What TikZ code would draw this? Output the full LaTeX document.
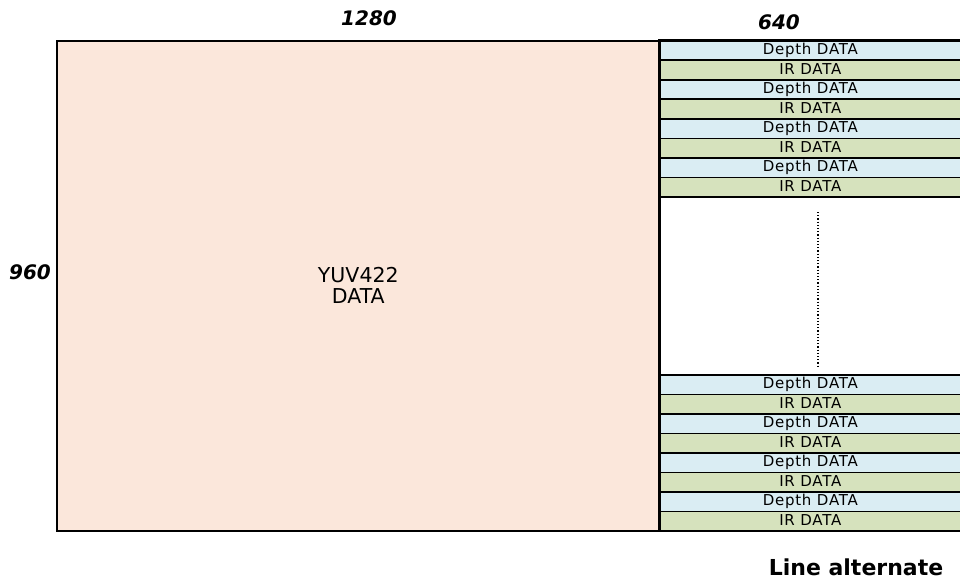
\documentclass[tikz,border=0pt]{standalone}
\usepackage{fontspec}
\setmainfont{DejaVu Sans}
\begin{document}
\begin{tikzpicture}[x=1pt,y=-1pt,
  stripe/.style={draw=black,line width=1.6pt,minimum width=301pt,minimum height=19.5pt,inner sep=0pt,text height=11pt,text depth=3pt,anchor=north west,font=\fontsize{15}{15}\selectfont\addfontfeatures{LetterSpace=5}},
  depth/.style={stripe,fill=depthblue},
  ir/.style={stripe,fill=irgreen},
  dim/.style={font=\fontsize{20}{20}\selectfont\bfseries\itshape}]
\definecolor{yuvfill}{HTML}{FBE7DB}
\definecolor{depthblue}{HTML}{DAEDF3}
\definecolor{irgreen}{HTML}{D6E2BD}
\useasboundingbox (0,0) rectangle (960,583);
\node[draw=black,line width=1.6pt,fill=yuvfill,minimum width=603pt,minimum height=490pt,anchor=north west,inner sep=0pt,align=center,font=\fontsize{20.5}{21}\selectfont] (yuv) at (56,40) {YUV422\\DATA};
\draw[line width=1.6pt] (659,40) rectangle (962,530);
\foreach \i in {0,1,2,3}{
  \node[depth] (td\i) at (659,40+39*\i) {Depth DATA};
  \node[ir] (ti\i) at (659,59.5+39*\i) {IR DATA};
  \node[depth] (bd\i) at (659,374+39*\i) {Depth DATA};
  \node[ir] (bi\i) at (659,393.5+39*\i) {IR DATA};
}
\coordinate (dt) at (818,212);
\coordinate (db) at (818,366);
\draw[dotted,line width=1.2pt] (dt) -- (db);
\node[dim] (w) at (369,18) {1280};
\node[dim] (w2) at (779,22) {640};
\node[dim] (h) at (30,272) {960};
\node[font=\fontsize{22}{22}\selectfont\bfseries] (la) at (856,567) {Line alternate};
\end{tikzpicture}
\end{document}
